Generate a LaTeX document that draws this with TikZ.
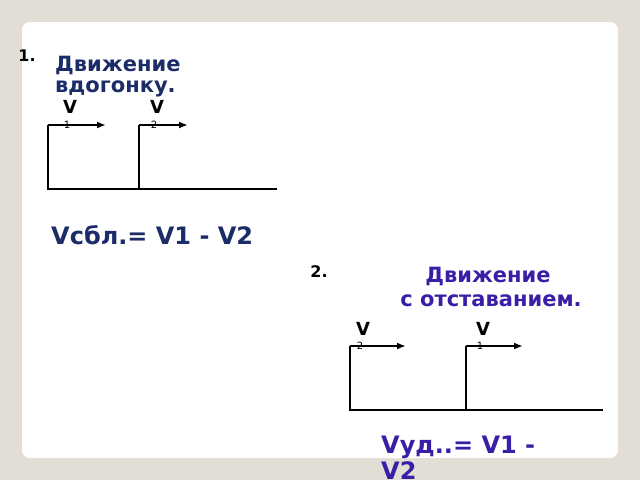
\documentclass[tikz,border=0pt]{standalone}
\usepackage{fontspec}
\setmainfont{DejaVu Sans}
\usetikzlibrary{arrows.meta}
\definecolor{pagebg}{RGB}{226,222,213}
\definecolor{navy}{RGB}{28,44,104}
\definecolor{violet}{RGB}{58,30,168}
\begin{document}
\begin{tikzpicture}[
      x=1pt, y=-1pt,
      title/.style={font=\bfseries\fontsize{21}{24}\selectfont, anchor=west, inner sep=0pt},
      formula/.style={font=\bfseries\fontsize{24}{26}\selectfont, anchor=west, inner sep=0pt},
      num/.style={font=\bfseries\fontsize{16}{18}\selectfont, inner sep=0pt},
      vel/.style={font=\bfseries\fontsize{18}{20}\selectfont, inner sep=0pt},
      sub/.style={font=\fontsize{10}{11}\selectfont, inner sep=0pt},
      track/.style={line width=2.4pt},
      arrow/.style={-{Latex[length=9pt,width=7pt]}, line width=1.8pt}
    ]
    \useasboundingbox (0,0) rectangle (640,480);
    \clip (0,0) rectangle (640,480);

    % Background
    \fill[pagebg] (0,0) rectangle (640,480);
    \fill[white, rounded corners=8pt] (22,22) rectangle (618,458);

    % Part 1
    \node[num] (n1) at (27,56) {1.};
    \node[title, navy] (t1a) at (55,65) {Движение};
    \node[title, navy] (t1b) at (55,89) {вдогонку.};
    \node[vel] (v1) at (70,107) {V};
    \node[sub] (s1) at (67,125) {1};
    \node[vel] (v2) at (157,107) {V};
    \node[sub] (s2) at (154,125) {2};
    \draw[track] (48,189) -- (48,125);
    \draw[track] (139,189) -- (139,125);
    \draw[track] (47,189) -- (277,189);
    \draw[arrow] (48,125) -- (106,125);
    \draw[arrow] (139,125) -- (188,125);
    \node[formula, navy] (f1) at (51,235) {Vсбл.= V1 - V2};

    % Part 2
    \node[num] (n2) at (319,272) {2.};
    \node[title, violet, anchor=center] (t2a) at (488,276) {Движение};
    \node[title, violet, anchor=center] (t2b) at (491,301) {с отставанием.};
    \node[vel] (v3) at (363,329) {V};
    \node[sub] (s3) at (360,346) {2};
    \node[vel] (v4) at (483,329) {V};
    \node[sub] (s4) at (480,346) {1};
    \draw[track] (350,410) -- (350,346);
    \draw[track] (466,410) -- (466,346);
    \draw[track] (349,410) -- (603,410);
    \draw[arrow] (350,346) -- (406,346);
    \draw[arrow] (466,346) -- (523,346);
    \node[formula, violet] (f2a) at (381,447) {Vуд..= V1 -};
    \node[formula, violet] (f2b) at (381,471) {V2};
\end{tikzpicture}
\end{document}
